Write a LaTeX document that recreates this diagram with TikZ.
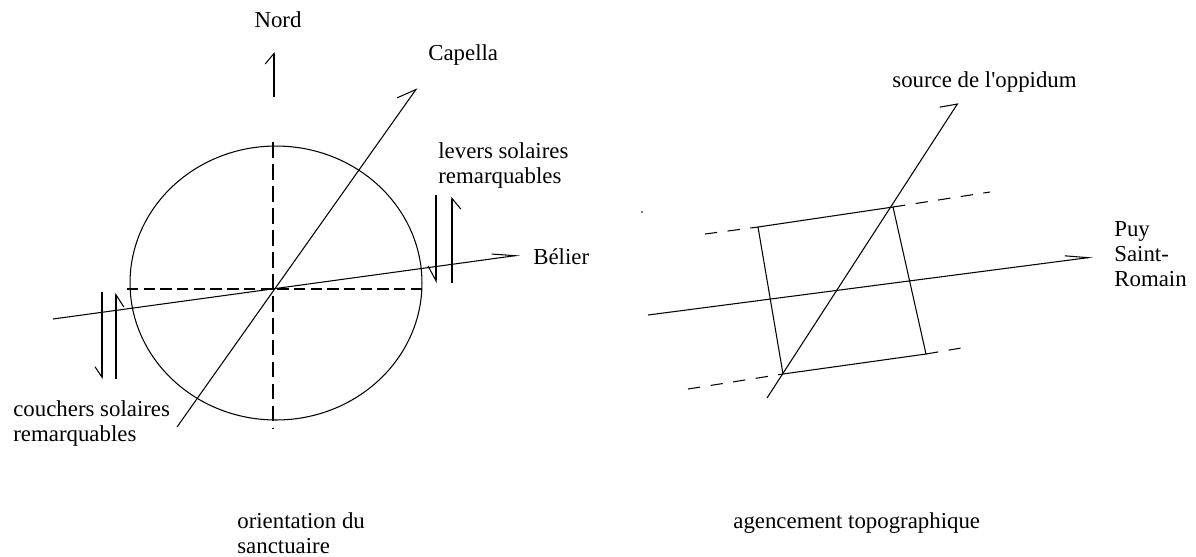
\documentclass[tikz,border=0pt]{standalone}
\usepackage{fontspec}
\setmainfont{Liberation Serif}
\usetikzlibrary{arrows.meta}

\begin{document}
\begin{tikzpicture}[
  x=0.02cm, y=-0.02cm,
  trait/.style={line width=0.6pt},
  tiret/.style={trait, dash pattern=on 6.5pt off 3pt},
  tiretv/.style={trait, dash pattern=on 9pt off 3.5pt},
  tiretlong/.style={trait, dash pattern=on 7pt off 6pt},
  harpon/.style={trait, -{Straight Barb[harpoon, length=6pt, width=10pt, #1]}},
  harpon/.default={},
  chevron/.style={trait, -{Straight Barb[harpoon, length=13pt, width=5.5pt]}},
  etiquette/.style={font=\fontsize{13}{14.2}\selectfont, inner sep=0pt, anchor=west, align=left}
]
\useasboundingbox (0,0) rectangle (1196,556);

% --- Orientation du sanctuaire ---
\coordinate (cercle) at (276,283);
\draw[trait] (cercle) ellipse [x radius=2.92cm, y radius=2.74cm];
\coordinate (axeN) at (273,142);
\coordinate (axeS) at (273,428);
\coordinate (axeO) at (127,289);
\coordinate (axeE) at (427,289);
\draw[tiretv] (axeN) -- (axeS);
\draw[tiret] (axeO) -- (axeE);

\coordinate (nordbas) at (274,97);
\coordinate (nordhaut) at (274,52);
\draw[harpon] (nordbas) -- (nordhaut);
\node[etiquette, anchor=center] (nord) at (278,20) {Nord};

\coordinate (capS) at (177,427);
\coordinate (capN) at (417,88);
\draw[harpon={length=10pt, width=12pt}] (capS) -- (capN);
\node[etiquette] (capella) at (428,55) {Capella};

\coordinate (belO) at (53,319);
\coordinate (belE) at (520,255);
\draw[chevron] (belO) -- (belE);
\node[etiquette] (belier) at (533,257) {Bélier};

\coordinate (lev1h) at (436,195);
\coordinate (lev1b) at (436,283);
\coordinate (lev2b) at (452,283);
\coordinate (lev2h) at (452,197);
\draw[harpon={swap, length=8.5pt, width=9pt}] (lev1h) -- (lev1b);
\draw[harpon=swap] (lev2b) -- (lev2h);
\node[etiquette] (levers) at (438,165.5) {levers solaires\\remarquables};

\coordinate (cou1h) at (102,292);
\coordinate (cou1b) at (102,379);
\coordinate (cou2b) at (116,379);
\coordinate (cou2h) at (116,293);
\draw[harpon={swap, width=8pt}] (cou1h) -- (cou1b);
\draw[harpon={swap, length=7pt, width=9pt}] (cou2b) -- (cou2h);
\node[etiquette] (couchers) at (13,423.5) {couchers solaires\\remarquables};

\node[etiquette] (orientation) at (237,533) {orientation du\\sanctuaire};

% --- Agencement topographique ---
\coordinate (hg) at (758,227);
\coordinate (hd) at (893,207);
\coordinate (bd) at (926,354);
\coordinate (bg) at (783,374);
\draw[trait] (hg) -- (hd) -- (bd) -- (bg) -- cycle;
\coordinate (tH1) at (705,234);
\coordinate (tH2) at (990,192);
\coordinate (tB1) at (688,389);
\coordinate (tB2) at (967,347);
\draw[tiretlong] (tH1) -- (hg);
\draw[tiretlong] (hd) -- (tH2);
\draw[tiretlong] (tB1) -- (bg);
\draw[tiretlong] (bd) -- (tB2);

\coordinate (srcS) at (767,398);
\coordinate (srcN) at (958,103);
\draw[harpon={length=7pt, width=15pt}] (srcS) -- (srcN);
\node[etiquette] (source) at (892,82) {source de l\textquotesingle oppidum};

\coordinate (puyO) at (648,315);
\coordinate (puyE) at (1093,257);
\draw[chevron] (puyO) -- (puyE);
\node[etiquette] (puy) at (1114,254) {Puy\\Saint-\\Romain};

\fill (642,212) circle (0.5pt);

\node[etiquette] (agencement) at (733,523) {agencement topographique};

\end{tikzpicture}
\end{document}
